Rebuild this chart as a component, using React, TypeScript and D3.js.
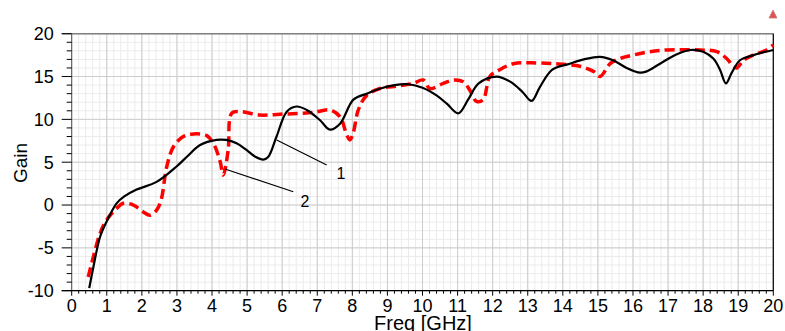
import React from "react";
import * as d3 from "d3";

const curve1Freq = [0.5, 0.62, 0.81, 1.0, 1.28, 1.5, 1.85, 2.42, 2.99, 3.3, 3.66, 4.13, 4.4, 4.7, 4.99, 5.25, 5.46, 5.6, 5.84, 6.13, 6.41, 6.7, 7.08, 7.36, 7.65, 8.03, 8.41, 8.8, 9.2, 9.6, 10.0, 10.4, 10.7, 11.02, 11.3, 11.6, 12.11, 12.5, 12.85, 13.11, 13.35, 13.7, 14.2, 14.6, 15.06, 15.43, 15.82, 16.2, 16.39, 16.77, 17.25, 17.63, 18.0, 18.29, 18.48, 18.65, 18.81, 19.05, 19.43, 20.0];
const curve1Gain = [-9.7, -7.2, -3.7, -1.9, 0.2, 1.0, 1.8, 2.7, 4.5, 5.7, 7.0, 7.6, 7.6, 7.2, 6.4, 5.6, 5.3, 5.6, 8.0, 10.9, 11.5, 11.1, 9.9, 8.8, 9.5, 12.3, 13.0, 13.6, 14.0, 14.1, 13.7, 12.8, 11.8, 10.7, 12.3, 14.2, 15.0, 14.4, 13.2, 12.15, 13.8, 15.8, 16.5, 17.0, 17.3, 16.9, 16.0, 15.45, 15.6, 16.5, 17.6, 18.1, 17.9, 17.1, 15.8, 14.2, 15.4, 16.9, 17.5, 18.1];

const curve2Freq = [0.47, 0.62, 0.81, 1.0, 1.28, 1.47, 1.76, 2.04, 2.23, 2.42, 2.55, 2.71, 2.9, 3.18, 3.47, 3.85, 4.04, 4.23, 4.32, 4.46, 4.56, 4.8, 5.37, 5.94, 6.5, 6.89, 7.36, 7.65, 7.84, 7.93, 8.03, 8.17, 8.41, 8.79, 9.3, 9.74, 10.02, 10.21, 10.59, 10.88, 11.16, 11.35, 11.54, 11.73, 11.92, 12.2, 12.59, 13.06, 13.73, 14.49, 14.87, 15.06, 15.35, 15.63, 16.0, 16.48, 16.96, 17.9, 18.39, 18.67, 18.86, 18.96, 19.15, 19.43, 19.81, 20.0];
const curve2Gain = [-8.4, -6.0, -3.3, -1.7, -0.4, 0.2, 0.0, -0.8, -1.2, -0.6, 0.6, 4.5, 6.8, 8.0, 8.3, 8.1, 7.2, 5.1, 3.5, 6.4, 10.7, 10.9, 10.5, 10.6, 10.7, 10.8, 11.1, 10.3, 8.2, 7.6, 8.5, 11.1, 12.8, 13.6, 13.9, 14.2, 14.6, 13.6, 14.2, 14.6, 14.4, 13.4, 12.1, 12.3, 15.0, 15.8, 16.5, 16.6, 16.5, 16.2, 15.6, 15.0, 16.5, 17.1, 17.5, 17.9, 18.1, 18.1, 17.9, 17.1, 16.2, 16.0, 16.9, 17.5, 18.1, 18.7];

const xTicks = d3.range(0, 21, 1);
const yTicks = [-10, -5, 0, 5, 10, 15, 20];

const W = 785, H = 331;
const L = 71.7, R = 773.3, T = 33.7, B = 290.7;

export default function App() {
  const x = d3.scaleLinear().domain([0, 20]).range([L, R]);
  const y = d3.scaleLinear().domain([-10, 20]).range([B, T]);
  const line = d3.line<[number, number]>().x(d => x(d[0])).y(d => y(d[1])).curve(d3.curveCatmullRom.alpha(0.5));
  const d1 = line(curve1Freq.map((f, i) => [f, curve1Gain[i]]));
  const d2 = line(curve2Freq.map((f, i) => [f, curve2Gain[i]]));
  const minorX = d3.range(0, 100.5, 1).map(v => v / 5);
  const minorY = d3.range(-10, 20.5, 1);
  const font = "'Liberation Sans', Arial, sans-serif";
  return (
    <svg width={W} height={H} style={{ position: "absolute", left: 0, top: 0 }} fontFamily={font}>
      <rect width={W} height={H} fill="#fff" />
      {minorX.map((v, i) => <line key={"mx" + i} x1={x(v)} x2={x(v)} y1={T} y2={B} stroke="#ebebeb" strokeWidth={1} />)}
      {minorY.map((v, i) => <line key={"my" + i} x1={L} x2={R} y1={y(v)} y2={y(v)} stroke="#ebebeb" strokeWidth={1} />)}
      {xTicks.map(v => <line key={"gx" + v} x1={x(v)} x2={x(v)} y1={T} y2={B} stroke="#cccccc" strokeWidth={1} />)}
      {yTicks.map(v => <line key={"gy" + v} x1={L} x2={R} y1={y(v)} y2={y(v)} stroke="#cccccc" strokeWidth={1} />)}
      <line x1={L - 10} x2={R} y1={T} y2={T} stroke="#808080" strokeWidth={1.5} />
      <line x1={L} x2={L} y1={T} y2={B} stroke="#555" strokeWidth={1} />
      <line x1={R} x2={R} y1={T} y2={B} stroke="#000" strokeWidth={1.2} />
      <line x1={L - 10} x2={R} y1={B} y2={B} stroke="#000" strokeWidth={1.2} />
      {minorY.map((v, i) => <line key={"ty" + i} x1={yTicks.includes(v) ? L - 10 : L - 5} x2={L} y1={y(v)} y2={y(v)} stroke="#000" strokeWidth={1} />)}
      {minorX.map((v, i) => <line key={"tx" + i} x1={x(v)} x2={x(v)} y1={B} y2={B + (Number.isInteger(v) ? 5 : 3)} stroke="#000" strokeWidth={1} />)}
      {yTicks.map(v => <text key={"ly" + v} x={L - 18} y={y(v)} dy="0.35em" textAnchor="end" fontSize={18} fill="#000">{v}</text>)}
      {xTicks.map(v => <text key={"lx" + v} x={x(v)} y={B + 21} textAnchor="middle" fontSize={18} fill="#000">{v}</text>)}
      <text x={423} y={330} textAnchor="middle" fontSize={20} fill="#000">Freq [GHz]</text>
      <text transform={`translate(27,163) rotate(-90)`} textAnchor="middle" fontSize={19} fill="#000">Gain</text>
      <path d={d2 || ""} fill="none" stroke="#ff0000" strokeWidth={3.5} strokeDasharray="10,5" />
      <path d={d1 || ""} fill="none" stroke="#000" strokeWidth={2.2} />
      <line x1={276.7} y1={140} x2={326.7} y2={165} stroke="#000" strokeWidth={1.2} />
      <text x={341} y={179} textAnchor="middle" fontSize={16} fill="#000">1</text>
      <line x1={225} y1={169} x2={293.3} y2={191.7} stroke="#000" strokeWidth={1.2} />
      <text x={305} y={207} textAnchor="middle" fontSize={16} fill="#000">2</text>
      <polygon points="769,18 773,10 777,18" fill="#e05050" stroke="#c08080" strokeWidth={0.8} />
    </svg>
  );
}
